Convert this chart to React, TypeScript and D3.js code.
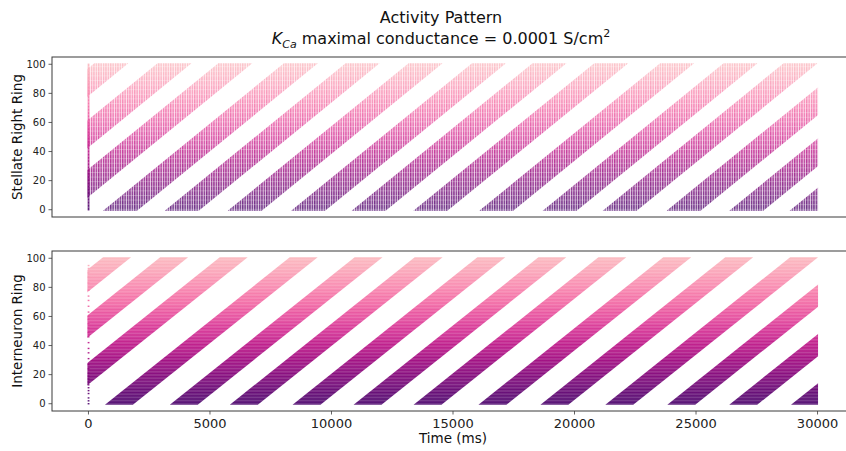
import React from "react";
import * as d3 from "d3";

// axis ticks
const timeTicks = [0, 5000, 10000, 15000, 20000, 25000, 30000];
const neuronTicks = [0, 20, 40, 60, 80, 100];
const neuronCount = 100;
const tEnd = 30000;

// wave fronts: time (ms) at which each activity bump reaches neuron 0
const stellateOnsets = [-7150, -4550, -2050, 650, 3190, 5780, 8390, 10880, 13420, 16130, 18740, 21210, 23840, 26420, 28900];
const interneuronOnsets = [-6950, -4600, -2150, 730, 3400, 5870, 8450, 10960, 13430, 16100, 18650, 21320, 23870, 26420, 28960];
// time for a front to travel neuron 0 -> 100, and how long each neuron stays active
const stellateSweep = 7340;
const interneuronSweep = 7500;
const stellateBurst = 1400;
const interneuronBurst = 1150;
// neurons that fire in the initial transient at t = 0
const stellateInitial = d3.range(0, 101);
const interneuronInitial = [0, 2, 4, 7, 9, 11, 13, 15, 17, 19, 21, 24, 27, 31, 35, 38, 42, 46, 49, 52, 55, 58, 60, 63, 67, 71, 74, 78, 83, 87, 90, 93, 95];

const W = 846;
const H = 451;
const font = "DejaVu Sans, sans-serif";

const x = d3.scaleLinear().domain([-1500, 31500]).range([52, 854]);
const yTop = d3.scaleLinear().domain([-5, 105]).range([217, 57]);
const yBot = d3.scaleLinear().domain([-5, 105]).range([411, 251]);
const color = (n) => d3.interpolateRdPu(1 - (0.7 * n) / neuronCount);

function Raster({ id, y, onsets, sweep, burst, initial, label, texture, opacity }) {
  const [r0, r1] = y.range();
  const bandPath = (onset) => {
    const lo = -0.7;
    const hi = neuronCount + 0.7;
    const tLo = onset + (sweep * lo) / neuronCount;
    const tHi = onset + (sweep * hi) / neuronCount;
    return d3.line()([
      [x(tLo), y(lo)],
      [x(tHi), y(hi)],
      [x(tHi + burst), y(hi)],
      [x(tLo + burst), y(lo)],
    ]) + "Z";
  };
  const stops = d3.range(0, 11).map((i) => i * 10);
  const rowH = Math.abs(y(1) - y(0));
  return (
    <g>
      <defs>
        <clipPath id={`clip-${id}`}>
          <rect x={x(0) - 1} y={y(100.8)} width={x(tEnd) - x(0) + 1.5} height={y(-0.8) - y(100.8)} />
        </clipPath>
        <linearGradient id={`grad-${id}`} gradientUnits="userSpaceOnUse" x1={0} x2={0} y1={y(0)} y2={y(100)}>
          {stops.map((n) => (
            <stop key={n} offset={n / 100} stopColor={color(n)} />
          ))}
        </linearGradient>
        {texture === "ticks" ? (
          <pattern id={`tex-${id}`} patternUnits="userSpaceOnUse" width={2.4} height={4.6} x={x(0)} y={y(0)}>
            <rect x={1.4} y={0} width={1} height={4.6} fill="#fff" opacity={0.75} />
            <rect x={0} y={3.9} width={2.4} height={0.7} fill="#fff" opacity={0.35} />
          </pattern>
        ) : (
          <pattern id={`tex-${id}`} patternUnits="userSpaceOnUse" width={10} height={rowH} x={x(0)} y={y(0) + rowH / 2}>
            <rect x={0} y={0} width={10} height={0.4} fill="#fff" opacity={0.35} />
          </pattern>
        )}
      </defs>
      <g clipPath={`url(#clip-${id})`}>
        {onsets.map((o, i) => (
          <path key={i} d={bandPath(o)} fill={`url(#grad-${id})`} fillOpacity={opacity} />
        ))}
        <rect x={x(0) - 1} y={r1} width={x(tEnd) - x(0) + 2} height={r0 - r1} fill={`url(#tex-${id})`} />
      </g>
      {initial.map((n) => (
        <rect key={n} x={x(0) - 0.8} y={y(n) - 0.7} width={1.8} height={1.4} fill={color(n)} opacity={0.9} />
      ))}
      {/* spines */}
      <rect x={x.range()[0]} y={r1} width={x.range()[1] - x.range()[0]} height={r0 - r1} fill="none" stroke="#3a3a3a" strokeWidth={1} />
      {neuronTicks.map((t) => (
        <g key={t} transform={`translate(0,${y(t)})`}>
          <line x1={48.5} x2={52} stroke="#3a3a3a" strokeWidth={0.8} />
          <text x={45.5} dy="0.35em" textAnchor="end" fontSize={10} fontFamily={font} fill="#222">
            {t}
          </text>
        </g>
      ))}
      <text
        transform={`translate(22,${(r0 + r1) / 2}) rotate(-90)`}
        textAnchor="middle"
        fontSize={13.5}
        fontFamily={font}
        fill="#111"
      >
        {label}
      </text>
    </g>
  );
}

export default function App() {
  const axisY = yBot.range()[0];
  return (
    <svg width={W} height={H} style={{ position: "absolute", left: 0, top: 0, background: "#fff" }}>
      <text x={441} y={23} textAnchor="middle" fontSize={16} fontFamily={font} fill="#111">
        Activity Pattern
      </text>
      <text x={441} y={44} textAnchor="middle" fontSize={16} fontFamily={font} fill="#111">
        <tspan fontStyle="italic">K</tspan>
        <tspan fontStyle="italic" fontSize={11} dy={4}>Ca</tspan>
        <tspan dy={-4}> maximal conductance = 0.0001 S/cm</tspan>
        <tspan fontSize={11} dy={-7}>2</tspan>
      </text>

      <Raster
        id="stellate"
        y={yTop}
        onsets={stellateOnsets}
        sweep={stellateSweep}
        burst={stellateBurst}
        initial={stellateInitial}
        label="Stellate Right Ring"
        texture="ticks"
        opacity={0.8}
      />
      <Raster
        id="inter"
        y={yBot}
        onsets={interneuronOnsets}
        sweep={interneuronSweep}
        burst={interneuronBurst}
        initial={interneuronInitial}
        label="Interneuron Ring"
        texture="rows"
        opacity={0.95}
      />

      {timeTicks.map((t) => (
        <g key={t} transform={`translate(${x(t)},${axisY})`}>
          <line y1={0} y2={3.5} stroke="#3a3a3a" strokeWidth={0.8} />
          <text y={17} textAnchor="middle" fontSize={13} fontFamily={font} fill="#222">
            {t}
          </text>
        </g>
      ))}
      <text x={453} y={443} textAnchor="middle" fontSize={13.5} fontFamily={font} fill="#111">
        Time (ms)
      </text>
    </svg>
  );
}
